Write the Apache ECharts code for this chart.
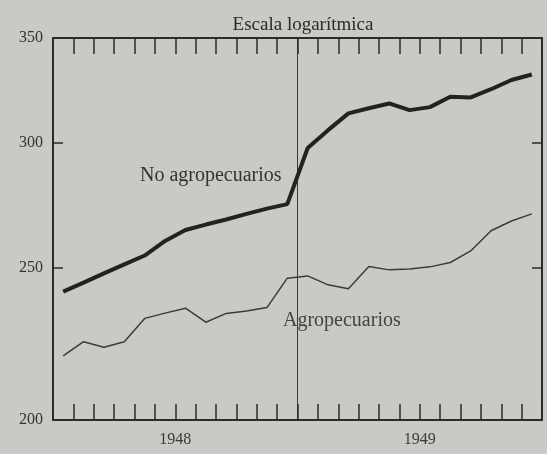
<!DOCTYPE html>
<html>
<head>
<meta charset="utf-8">
<script src="https://cdn.jsdelivr.net/npm/echarts@6/dist/echarts.min.js"></script>
<style>
  html, body { margin: 0; padding: 0; background: #c9c9c5; }
  #chart { width: 547px; height: 454px; }
</style>
</head>
<body>
<div id="chart"></div>
<script>
// meses: enero 1948 .. diciembre 1949
var months = [
  '1948-01', '1948-02', '1948-03', '1948-04', '1948-05', '1948-06',
  '1948-07', '1948-08', '1948-09', '1948-10', '1948-11', '1948-12',
  '1949-01', '1949-02', '1949-03', '1949-04', '1949-05', '1949-06',
  '1949-07', '1949-08', '1949-09', '1949-10', '1949-11', '1949-12'
]
var years = ['1948', '1949']
var noAgropecuarios = [
  241.4, 244.6, 247.9, 251.2, 254.5, 260.0, 264.2, 266.3, 268.3, 270.5, 272.6, 274.4,
  297.9, 305.8, 313.4, 315.8, 318.0, 314.9, 316.3, 321.1, 320.8, 324.7, 329.1, 331.8
]
var agropecuarios = [
  219.7, 224.3, 222.5, 224.3, 232.1, 233.9, 235.6, 230.8, 233.8, 234.6, 235.8, 246.2,
  247.0, 243.8, 242.4, 250.4, 249.2, 249.5, 250.3, 251.9, 256.2, 263.9, 267.7, 270.5
]
var yLabelValues = [200, 250, 300, 350]
var yTickValues = [250, 300]

var serif = '"Liberation Serif", "DejaVu Serif", serif'
var ink = '#2b2b2b'

// eje de meses (abajo y arriba), marcas hacia adentro
function monthAxis(pos) {
  return {
    type: 'category',
    data: months,
    boundaryGap: true,
    position: pos,
    axisLine: { show: true, lineStyle: { color: ink, width: 2 } },
    axisTick: { show: true, inside: true, length: 16, interval: 0, lineStyle: { color: ink, width: 1.5 } },
    axisLabel: { show: false },
    splitLine: { show: false }
  }
}

function logAxis(pos, showLabels) {
  return {
    type: 'log',
    min: 200,
    max: 350,
    position: pos,
    axisLine: { show: true, lineStyle: { color: ink, width: 2 } },
    axisTick: { show: true, inside: true, length: 10, customValues: yTickValues, lineStyle: { color: ink, width: 1.5 } },
    axisLabel: {
      show: showLabels,
      customValues: yLabelValues,
      margin: 10,
      fontFamily: serif,
      fontSize: 16,
      color: '#333'
    },
    splitLine: { show: false }
  }
}

var myChart = echarts.init(document.getElementById('chart'))

myChart.setOption({
  backgroundColor: '#c9c9c5',
  animation: false,
  title: {
    text: 'Escala logarítmica',
    left: 298,
    top: 11,
    textAlign: 'center',
    textStyle: { fontFamily: serif, fontSize: 19, fontWeight: 'normal', color: ink }
  },
  grid: { left: 53, right: 5, top: 38, bottom: 34 },
  xAxis: [
    monthAxis('bottom'),
    monthAxis('top'),
    {
      // años: etiqueta centrada y línea divisoria entre 1948 y 1949
      type: 'category',
      data: years,
      boundaryGap: true,
      position: 'bottom',
      axisLine: { show: false },
      axisTick: { show: false },
      axisLabel: {
        interval: 0,
        margin: 12,
        fontFamily: serif,
        fontSize: 16,
        color: '#3a3a3a'
      },
      splitLine: { show: true, lineStyle: { color: '#3a3a3a', width: 1 } }
    }
  ],
  yAxis: [logAxis('left', true), logAxis('right', false)],
  graphic: [{
    type: 'text',
    left: 140,
    top: 166,
    style: { text: 'No agropecuarios', font: '20px ' + serif, fill: '#333' }
  }, {
    type: 'text',
    left: 283,
    top: 311,
    style: { text: 'Agropecuarios', font: '20px ' + serif, fill: '#444' }
  }],
  series: [{
    name: 'No agropecuarios',
    type: 'line',
    xAxisIndex: 0,
    data: noAgropecuarios,
    symbol: 'none',
    lineStyle: { color: '#222', width: 4 }
  }, {
    name: 'Agropecuarios',
    type: 'line',
    xAxisIndex: 0,
    data: agropecuarios,
    symbol: 'none',
    lineStyle: { color: '#3c3c3c', width: 1.5 }
  }]
})
</script>
</body>
</html>
